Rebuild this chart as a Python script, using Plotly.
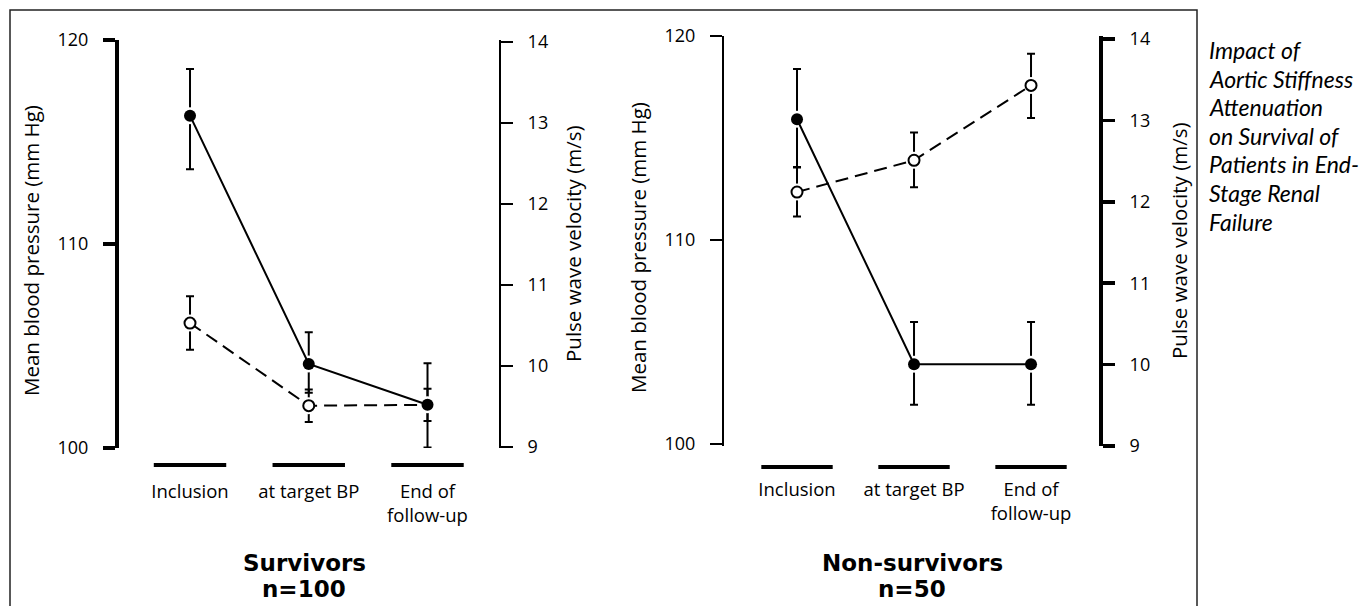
import plotly.graph_objects as go

W, H = 1363, 606

categories = ["Inclusion", "at target BP", "End of<br>follow-up"]
cat_index = [0, 1, 2]

# Survivors (n=100)
surv_mbp = [116.29, 104.12, 102.12]
surv_mbp_err_plus = [2.29, 1.55, 2.03]
surv_mbp_err_minus = [2.63, 1.41, 2.10]
surv_pwv = [10.53, 9.51, 9.52]
surv_pwv_err = [0.33, 0.20, 0.20]

# Non-survivors (n=50)
non_mbp = [115.92, 103.91, 103.91]
non_mbp_err_plus = [2.46, 2.07, 2.07]
non_mbp_err_minus = [2.34, 1.98, 1.98]
non_pwv = [12.12, 12.51, 13.43]
non_pwv_err_plus = [0.30, 0.34, 0.39]
non_pwv_err_minus = [0.30, 0.33, 0.40]

mbp_ticks = [100, 110, 120]
pwv_ticks = [9, 10, 11, 12, 13, 14]

panel_titles = [["Survivors", "n=100"], ["Non-survivors", "n=50"]]
mbp_title = "Mean blood pressure (mm Hg)"
pwv_title = "Pulse wave velocity (m/s)"
side_text = ["Impact of", "Aortic Stiffness", "Attenuation", "on Survival of",
             "Patients in End-", "Stage Renal", "Failure"]

FONT = "Open Sans, Noto Sans, sans-serif"


def px(x):
    return x / W


def py(y):
    return 1 - y / H


fig = go.Figure()

# base axes (y, y3) carry PWV; overlay axes (y2, y4) carry MBP so they draw on top
panels = [
    dict(x="x", ypwv="y", ymbp="y2", mbp=surv_mbp, mp=surv_mbp_err_plus, mm=surv_mbp_err_minus,
         pwv=surv_pwv, pp=surv_pwv_err, pm=surv_pwv_err),
    dict(x="x2", ypwv="y3", ymbp="y4", mbp=non_mbp, mp=non_mbp_err_plus, mm=non_mbp_err_minus,
         pwv=non_pwv, pp=non_pwv_err_plus, pm=non_pwv_err_minus),
]

for p in panels:
    for yref, vals, ep, em, filled in [(p["ypwv"], p["pwv"], p["pp"], p["pm"], False),
                                       (p["ymbp"], p["mbp"], p["mp"], p["mm"], True)]:
        # error bars + white mask around the point
        fig.add_trace(go.Scatter(
            x=cat_index, y=vals, xaxis=p["x"], yaxis=yref, mode="markers",
            marker=dict(size=17, color="white", line=dict(width=0)),
            error_y=dict(type="data", array=ep, arrayminus=em, symmetric=False,
                         color="black", thickness=2, width=4),
            hoverinfo="skip", showlegend=False))
        if filled:
            fig.add_trace(go.Scatter(
                x=cat_index, y=vals, xaxis=p["x"], yaxis=yref, mode="lines+markers",
                line=dict(color="black", width=2),
                marker=dict(size=12, color="black"),
                showlegend=False))
        else:
            fig.add_trace(go.Scatter(
                x=cat_index, y=vals, xaxis=p["x"], yaxis=yref, mode="lines+markers",
                line=dict(color="black", width=2, dash="13px,7px"),
                marker=dict(size=11, color="white", line=dict(color="black", width=2)),
                showlegend=False))

common_x = dict(tickvals=cat_index, ticktext=categories, showline=False, showgrid=False,
                zeroline=False, ticks="", tickfont=dict(family=FONT, size=18.5, color="black"),
                ticklabelstandoff=30, fixedrange=True, automargin=False)


def yax(rng, ticks, lw, tw, **kw):
    d = dict(range=rng, tickvals=ticks, showline=True, linewidth=lw, linecolor="black",
             ticks="outside", ticklen=12, tickwidth=tw, tickcolor="black", showgrid=False,
             zeroline=False, tickfont=dict(family=FONT, size=18, color="black"),
             ticklabelstandoff=11, fixedrange=True, automargin=False)
    d.update(kw)
    return d


L_dom = [py(448), py(40)]
R_dom = [py(446), py(36)]

fig.update_layout(
    width=W, height=H, margin=dict(l=0, r=0, t=0, b=0, pad=0, autoexpand=False), autosize=False,
    paper_bgcolor="white", plot_bgcolor="rgba(0,0,0,0)", showlegend=False,
    xaxis=dict(domain=[px(119), px(499)], range=[-0.598, 2.602], anchor="y", **common_x),
    yaxis=yax([8.9877, 14.0247], pwv_ticks, 2, 2, domain=L_dom, anchor="x", side="right"),
    yaxis2=yax([100, 120], mbp_ticks, 4, 3.5, overlaying="y", anchor="x", side="left"),
    xaxis2=dict(domain=[px(724), px(1099)], range=[-0.624, 2.581], anchor="y3", **common_x),
    yaxis3=yax([9, 14.037], pwv_ticks, 4, 3.5, domain=R_dom, anchor="x2", side="right"),
    yaxis4=yax([99.902, 120], mbp_ticks, 2, 2, overlaying="y3", anchor="x2", side="left"),
)

shapes = []
# category bars
for xr, ybar in [("x", 465), ("x2", 467)]:
    for i in cat_index:
        shapes.append(dict(type="line", xref=xr, yref="paper", x0=i - 0.305, x1=i + 0.305,
                           y0=py(ybar), y1=py(ybar), line=dict(color="black", width=4)))
# frame
shapes.append(dict(type="rect", xref="paper", yref="paper", x0=px(10), x1=px(1197),
                   y0=py(640), y1=py(10), line=dict(color="#222", width=1.5)))
fig.update_layout(shapes=shapes)

ann = []
# axis titles
for x, y, t in [(31, 251, mbp_title), (573, 244, pwv_title),
                (638, 248, mbp_title), (1179, 241, pwv_title)]:
    ann.append(dict(xref="paper", yref="paper", x=px(x), y=py(y), text=t, textangle=-90,
                    showarrow=False, xanchor="center", yanchor="middle",
                    font=dict(family=FONT, size=20.5, color="black")))
# panel titles
for x, lines in [(304, panel_titles[0]), (912, panel_titles[1])]:
    for yy, t in zip([563, 589], lines):
        ann.append(dict(xref="paper", yref="paper", x=px(x), y=py(yy), text="<b>" + t + "</b>",
                        showarrow=False, xanchor="center", yanchor="middle",
                        font=dict(family="DejaVu Sans, sans-serif", size=23, color="black")))
# side text
for k, line in enumerate(side_text):
    ann.append(dict(xref="paper", yref="paper", x=px(1207), y=py(50 + 28.6 * k), text="<i>" + line + "</i>",
                    showarrow=False, xanchor="left", yanchor="middle",
                    font=dict(family="Lato, Open Sans, sans-serif", size=23, color="black")))
fig.update_layout(annotations=ann)

post = ("var gd=document.getElementById('{plot_id}');"
        "gd.style.position='fixed';gd.style.left='0px';gd.style.top='0px';"
        "document.body.style.margin='0';document.body.style.padding='0';"
        "document.body.style.height='606px';document.body.style.overflow='hidden';"
        "document.documentElement.style.overflow='hidden';")

fig.write_html("out.html", config={"displayModeBar": False, "staticPlot": True}, post_script=post)
